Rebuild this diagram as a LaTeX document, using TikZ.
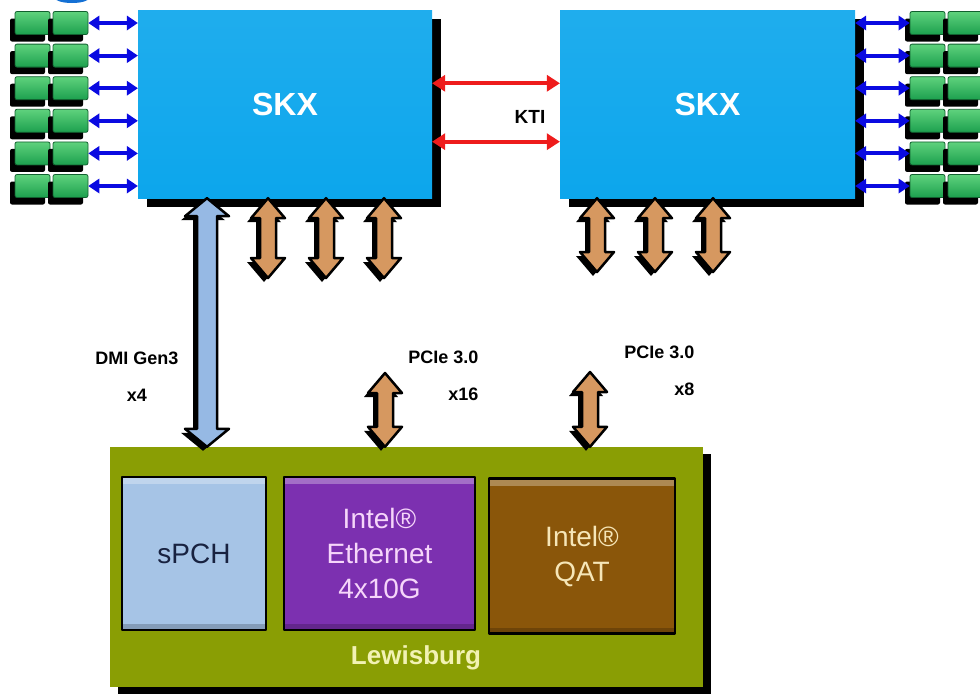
\documentclass[tikz,border=0pt]{standalone}
\usepackage{fontspec}
\setmainfont{Liberation Sans}
\usetikzlibrary{arrows.meta, positioning, calc, shadows}

\definecolor{skxblue}{RGB}{12,166,236}
\definecolor{dimmgreen}{RGB}{28,160,78}
\definecolor{dimmlight}{RGB}{95,210,125}
\definecolor{memblue}{RGB}{10,10,225}
\definecolor{ktired}{RGB}{238,28,28}
\definecolor{pcitan}{RGB}{214,152,96}
\definecolor{dmiblue}{RGB}{150,185,228}
\definecolor{lbgolive}{RGB}{138,158,4}
\definecolor{lbgtext}{RGB}{242,242,180}
\definecolor{pchblue}{RGB}{166,196,230}
\definecolor{pchtext}{RGB}{24,34,64}
\definecolor{ethpurple}{RGB}{124,48,176}
\definecolor{ethtext}{RGB}{246,214,250}
\definecolor{qatbrown}{RGB}{138,86,10}
\definecolor{qattext}{RGB}{246,230,184}
\definecolor{sliver}{RGB}{20,112,212}

\begin{document}
\begin{tikzpicture}[x=1pt, y=-1pt, line join=round]

	\useasboundingbox (0,0) rectangle (980,694);

	\tikzset{
		skx/.style={rectangle, minimum width=294pt, minimum height=188pt, inner sep=0pt, top color=skxblue!92!white, bottom color=skxblue, text=white, font=\fontsize{32}{36}\selectfont\bfseries, drop shadow={fill=black, opacity=1, shadow xshift=9pt, shadow yshift=-9pt}},
		dimm/.style={rectangle, rounded corners=2pt, minimum width=35pt, minimum height=23pt, inner sep=0pt, top color=dimmlight, bottom color=dimmgreen, draw=dimmgreen!60!black, line width=0.8pt, drop shadow={fill=black, opacity=1, shadow xshift=-5pt, shadow yshift=-7pt}},
		memlink/.style={draw=memblue, line width=4pt, {Triangle[width=15pt,length=11pt,line width=0pt]}-{Triangle[width=15pt,length=11pt,line width=0pt]}},
		ktilink/.style={draw=ktired, line width=4pt, {Triangle[width=17pt,length=13pt,line width=0pt]}-{Triangle[width=17pt,length=13pt,line width=0pt]}},
		fatshade/.style={fill=black, transform canvas={xshift=-4pt, yshift=-4pt}},
		fatbody/.style={fill=#1, draw=black, line width=2.5pt},
		lbg/.style={rectangle, minimum width=593pt, minimum height=240pt, inner sep=0pt, fill=lbgolive, drop shadow={fill=black, opacity=1, shadow xshift=8pt, shadow yshift=-7pt}},
		inbox/.style={rectangle, draw=black, line width=2.5pt, inner sep=0pt, align=center, font=\fontsize{28}{35}\selectfont,
			path picture={
				\fill[white, opacity=0.3] (path picture bounding box.north west) rectangle ([yshift=-7pt]path picture bounding box.north east);
				\fill[black, opacity=0.2] (path picture bounding box.south west) rectangle ([yshift=6pt]path picture bounding box.south east);
			}},
		lbl/.style={font=\fontsize{18}{37}\selectfont\bfseries}
	}

	% fat double arrow: colour, top end, bottom end, shaft half width, head half width, head length
	\newcommand{\fatlink}[6]{
		\coordinate (fa) at (#2);
		\coordinate (fb) at (#3);
		\fill[fatshade] (fa) -- ($(fa)+(#5,#6)$) -- ($(fa)+(#4,#6)$) -- ($(fb)+(#4,-#6)$) -- ($(fb)+(#5,-#6)$) -- (fb) -- ($(fb)+(-#5,-#6)$) -- ($(fb)+(-#4,-#6)$) -- ($(fa)+(-#4,#6)$) -- ($(fa)+(-#5,#6)$) -- cycle;
		\filldraw[fatbody=#1] (fa) -- ($(fa)+(#5,#6)$) -- ($(fa)+(#4,#6)$) -- ($(fb)+(#4,-#6)$) -- ($(fb)+(#5,-#6)$) -- (fb) -- ($(fb)+(-#5,-#6)$) -- ($(fb)+(-#4,-#6)$) -- ($(fa)+(-#4,#6)$) -- ($(fa)+(-#5,#6)$) -- cycle;
	}

	% edge of something cut off at the top
	\fill[sliver] (72,-2) ellipse (17pt and 5pt);

	\node[skx] (skxL) at (285,104) {SKX};
	\node[skx, minimum width=295pt] (skxR) at (707.5,104) {SKX};

	% memory
	\foreach \r in {0,...,5} {
		\node[dimm] (mla\r) at (32.5,{23+32.6*\r}) {};
		\node[dimm] (mlb\r) at (70.5,{23+32.6*\r}) {};
		\node[dimm] (mra\r) at (927.5,{23+32.6*\r}) {};
		\node[dimm] (mrb\r) at (965.5,{23+32.6*\r}) {};
		\draw[memlink] (mlb\r.east) -- (mlb\r.east -| skxL.west);
		\draw[memlink] (mra\r.west -| skxR.east) -- (mra\r.west);
	}

	\draw[ktilink] ($(skxL.north east)!0.39!(skxL.south east)$) -- ($(skxR.north west)!0.39!(skxR.south west)$);
	\draw[ktilink] ($(skxL.north east)!0.70!(skxL.south east)$) -- ($(skxR.north west)!0.70!(skxR.south west)$);
	\node[lbl, font=\fontsize{19}{22}\selectfont\bfseries] (kti) at (530,117) {KTI};

	\foreach \x/\n in {268/1, 326/2, 384/3} {
		\coordinate (pl\n) at (\x,278);
		\fatlink{pcitan}{pl\n |- skxL.south}{pl\n}{8}{17}{20}
	}
	\foreach \x/\n in {597/1, 655/2, 713/3} {
		\coordinate (pr\n) at (\x,272);
		\fatlink{pcitan}{pr\n |- skxR.south}{pr\n}{8}{17}{20}
	}

	% Lewisburg
	\node[lbg] (lbg) at (406.5,567) {};
	\node[inbox, fill=pchblue, text=pchtext, minimum width=144pt, minimum height=153pt] (pch) at (194,553.5) {sPCH};
	\node[inbox, fill=ethpurple, text=ethtext, minimum width=191pt, minimum height=153pt] (eth) at (379.5,553.5) {Intel®\\Ethernet\\4x10G};
	\node[inbox, fill=qatbrown, text=qattext, minimum width=186pt, minimum height=155pt] (qat) at (582,556) {Intel®\\QAT};
	\node[font=\fontsize{26}{30}\selectfont\bfseries, text=lbgtext] (lbgname) at (416,658) {Lewisburg};

	\coordinate (dmi) at (207,300);
	\coordinate (pm) at (385,373);
	\coordinate (pq) at (590,372);
	\fatlink{dmiblue}{dmi |- skxL.south}{dmi |- lbg.north}{10}{22}{18}
	\fatlink{pcitan}{pm}{pm |- lbg.north}{8}{17}{20}
	\fatlink{pcitan}{pq}{pq |- lbg.north}{8}{17}{20}

	\node[lbl, align=center] (dmilbl) at (137,377) {DMI Gen3\\x4};
	\node[lbl, align=right, anchor=east] (pcim) at (482,376) {PCIe 3.0\\x16};
	\node[lbl, align=right, anchor=east] (pciq) at (698,371) {PCIe 3.0\\x8};

\end{tikzpicture}
\end{document}
